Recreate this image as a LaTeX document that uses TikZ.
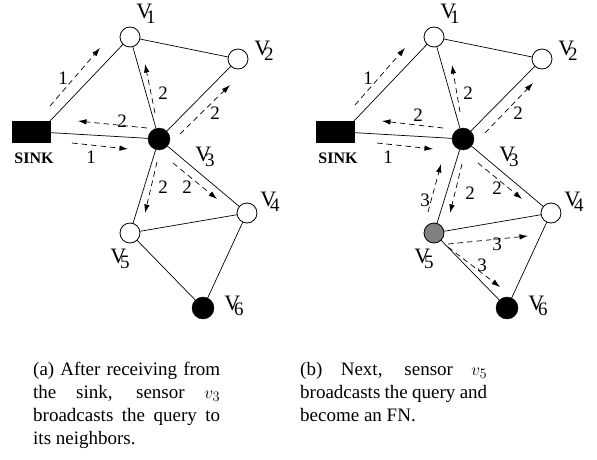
\documentclass[tikz,border=0pt]{standalone}
\usepackage{fontspec}
\setmainfont{Liberation Serif}
\usetikzlibrary{arrows.meta}

% vertex name: a V with its index set low and tucked under the right arm
\newcommand\vname[1]{V\kern-6pt\raisebox{-5pt}{\fontsize{19}{19}\selectfont #1}}

\tikzset{
  link/.style={line width=0.7pt},
  msg/.style={line width=0.7pt, dash pattern=on 5.5pt off 4pt,
              -{Latex[length=8.5pt,width=5.5pt]}},
  sensor/.style={circle, draw, line width=0.8pt, minimum size=20pt, inner sep=0pt},
  busy/.style={circle, draw, fill=black, minimum size=22pt, inner sep=0pt},
  sinkbox/.style={rectangle, draw, fill=black, minimum width=38pt, minimum height=21pt, inner sep=0pt},
  sinklabel/.style={font=\fontsize{16}{16}\selectfont\bfseries, inner sep=0pt},
  vlab/.style={font=\fontsize{22}{22}\selectfont, inner sep=0pt},
  hop/.style={font=\fontsize{19}{19}\selectfont, inner sep=0pt},
  caption/.style={anchor=north west, inner sep=0pt, text width=187pt, align=justify,
                  font=\fontsize{19}{23}\selectfont},
}

% the sensor network shared by both panels; #1 = name prefix, #2 = style of v5
\newcommand\drawnet[2]{%
  \node[sinkbox] (#1s) at (31,131.5) {};
  \node[sinklabel] (#1sl) at (34,158) {SINK};
  \node[sensor] (#1v1) at (130,37) {};
  \node[sensor] (#1v2) at (238,59) {};
  \node[busy]   (#1v3) at (159,139) {};
  \node[sensor] (#1v4) at (247,213) {};
  \node[#2]     (#1v5) at (130,233) {};
  \node[busy]   (#1v6) at (203,308) {};
  \node[vlab] (#1l1) at (146,14) {\vname{1}};
  \node[vlab] (#1l2) at (264,51) {\vname{2}};
  \node[vlab] (#1l3) at (205,157) {\vname{3}};
  \node[vlab] (#1l4) at (270,202) {\vname{4}};
  \node[vlab] (#1l5) at (120,259) {\vname{5}};
  \node[vlab] (#1l6) at (234,306) {\vname{6}};
  \draw[link] (#1s.north east) -- (#1v1);
  \draw[link] (#1s) -- (#1v3);
  \draw[link] (#1v1) -- (#1v2);
  \draw[link] (#1v1) -- (#1v3);
  \draw[link] (#1v2) -- (#1v3);
  \draw[link] (#1v3) -- (#1v4);
  \draw[link] (#1v3) -- (#1v5);
  \draw[link] (#1v4) -- (#1v5);
  \draw[link] (#1v5) -- (#1v6);
  \draw[link] (#1v4) -- (#1v6);
}

\begin{document}
\begin{tikzpicture}[x=1pt, y=-1pt]
\useasboundingbox (0,0) rectangle (597,460);

% ---------- panel (a): v3 forwards the query ----------
\drawnet{a}{sensor}
\coordinate (a1s) at (50,106);  \coordinate (a1e) at (100,48);
\coordinate (a2s) at (72,143);  \coordinate (a2e) at (128,149);
\coordinate (a3s) at (147,128); \coordinate (a3e) at (78,121);
\coordinate (a4s) at (155,113); \coordinate (a4e) at (145,64);
\coordinate (a5s) at (180,134); \coordinate (a5e) at (230,85);
\coordinate (a6s) at (157,162); \coordinate (a6e) at (145,213);
\coordinate (a7s) at (173,163); \coordinate (a7e) at (217,199);
\draw[msg] (a1s) -- (a1e);
\draw[msg] (a2s) -- (a2e);
\draw[msg] (a3s) -- (a3e);
\draw[msg] (a4s) -- (a4e);
\draw[msg] (a5s) -- (a5e);
\draw[msg] (a6s) -- (a6e);
\draw[msg] (a7s) -- (a7e);
\node[hop] (ah1) at (63,78)   {1};
\node[hop] (ah2) at (91,157)  {1};
\node[hop] (ah3) at (122,121) {2};
\node[hop] (ah4) at (163,93)  {2};
\node[hop] (ah5) at (215,113) {2};
\node[hop] (ah6) at (163,187) {2};
\node[hop] (ah7) at (187,187) {2};

\node[caption] (capa) at (33,362)
  {(a) After receiving from\linebreak the sink, sensor $v_3$\linebreak
   broadcasts the query to\linebreak its neighbors.};

% ---------- panel (b): v5 forwards the query ----------
\begin{scope}[xshift=304pt]
\drawnet{b}{sensor,fill=black!50}
\coordinate (b1s) at (51,105);  \coordinate (b1e) at (101,48);
\coordinate (b2s) at (73,143);  \coordinate (b2e) at (129,149);
\coordinate (b3s) at (139,128); \coordinate (b3e) at (78,121);
\coordinate (b4s) at (156,112); \coordinate (b4e) at (148,65);
\coordinate (b5s) at (181,133); \coordinate (b5e) at (229,83);
\coordinate (b6s) at (158,164); \coordinate (b6e) at (146,213);
\coordinate (b7s) at (174,163); \coordinate (b7e) at (218,199);
\coordinate (b8s) at (124,212); \coordinate (b8e) at (137,164);
\coordinate (b9s) at (144,244); \coordinate (b9e) at (224,236);
\coordinate (b10s) at (144,247); \coordinate (b10e) at (196,287);
\draw[msg] (b1s) -- (b1e);
\draw[msg] (b2s) -- (b2e);
\draw[msg] (b3s) -- (b3e);
\draw[msg] (b4s) -- (b4e);
\draw[msg] (b5s) -- (b5e);
\draw[msg] (b6s) -- (b6e);
\draw[msg] (b7s) -- (b7e);
\draw[msg] (b8s) -- (b8e);
\draw[msg] (b9s) -- (b9e);
\draw[msg] (b10s) -- (b10e);
\node[hop] (bh1) at (64,78)   {1};
\node[hop] (bh2) at (84,157)  {1};
\node[hop] (bh3) at (114,115) {2};
\node[hop] (bh4) at (164,93)  {2};
\node[hop] (bh5) at (214,113) {2};
\node[hop] (bh6) at (166,193) {2};
\node[hop] (bh7) at (193,188) {2};
\node[hop] (bh8) at (121,200) {3};
\node[hop] (bh9) at (193,244) {3};
\node[hop] (bh10) at (178,265) {3};
\end{scope}

\node[caption] (capb) at (300,362)
  {(b) Next, sensor $v_5$\linebreak broadcasts the query and\linebreak
   become an FN.};
\end{tikzpicture}
\end{document}
